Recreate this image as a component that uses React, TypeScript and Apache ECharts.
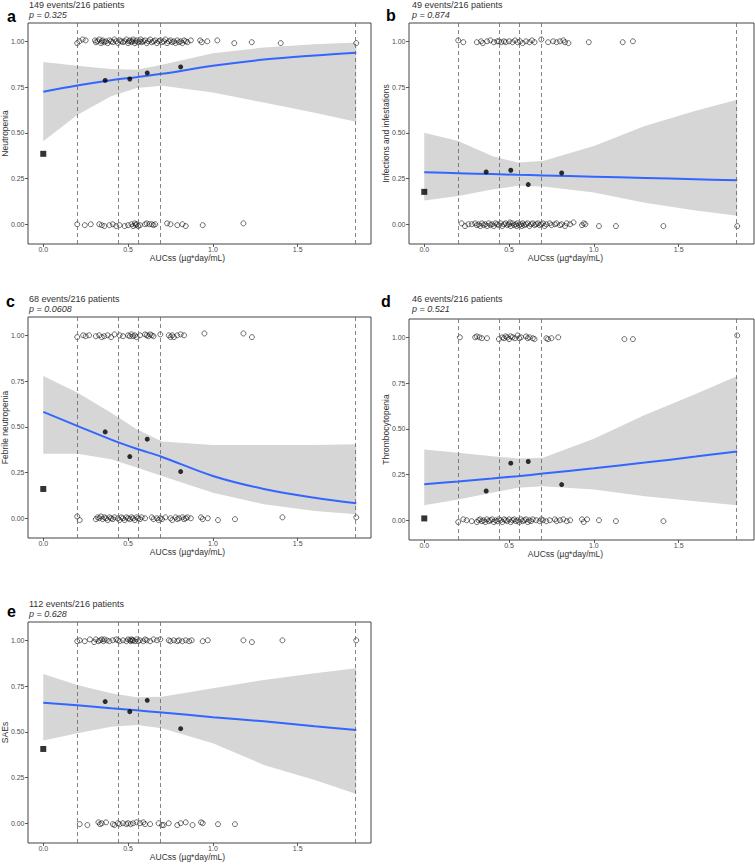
import React, { useEffect, useRef } from "react";
import * as echarts from "echarts";

// ---------- shared axis / cut values ----------
const X_TICKS = [0, 0.5, 1.0, 1.5];
const Y_TICKS = [0, 0.25, 0.5, 0.75, 1.0];
const QUARTILE_CUTS = [0.2, 0.438, 0.558, 0.693, 1.845];
const QUARTILE_MEDIANS = [0.365, 0.51, 0.613, 0.81];
const FIT_X = [0, 0.2, 0.4, 0.55, 0.7, 1.0, 1.3, 1.6, 1.845];
const X_TITLE = "AUCss (µg*day/mL)";

const PANEL_LETTERS = ["a", "b", "c", "d", "e"];
const ENDPOINTS = ["Neutropenia", "Infections and infestations", "Febrile neutropenia", "Thrombocytopenia", "SAEs"];
const EVENT_TEXT = [
  "149 events/216 patients",
  "49 events/216 patients",
  "68 events/216 patients",
  "46 events/216 patients",
  "112 events/216 patients",
];
const P_TEXT = ["p = 0.325", "p = 0.874", "p = 0.0608", "p = 0.521", "p = 0.628"];
const PLACEBO_RATE = [0.385, 0.177, 0.16, 0.01, 0.406];

// ---------- panel a: Neutropenia ----------
const A_QUARTILE_RATE = [0.786, 0.794, 0.827, 0.86];
const A_FIT = [0.724, 0.758, 0.787, 0.804, 0.822, 0.866, 0.9, 0.923, 0.938];
const A_UPPER = [0.887, 0.866, 0.848, 0.845, 0.872, 0.935, 0.966, 0.984, 0.993];
const A_LOWER = [0.454, 0.597, 0.7, 0.745, 0.757, 0.72, 0.665, 0.61, 0.56];
const A_EVENT_ROW = [
  [0.2, 0.99], [0.213, 1.0], [0.232, 1.01], [0.25, 1.005], [0.305, 1.005], [0.31, 0.995], [0.32, 1.0], [0.33, 1.01],
  [0.34, 0.99], [0.345, 1.0], [0.35, 1.005], [0.36, 0.995], [0.37, 1.0], [0.38, 0.99], [0.39, 1.005], [0.4, 1.0],
  [0.41, 0.995], [0.42, 1.01], [0.43, 1.0], [0.44, 0.99], [0.45, 1.005], [0.46, 1.0], [0.47, 0.995], [0.48, 1.0],
  [0.49, 1.01], [0.5, 0.99], [0.505, 1.0], [0.51, 1.005], [0.52, 0.995], [0.525, 1.0], [0.53, 1.01], [0.54, 0.99],
  [0.545, 1.0], [0.55, 1.005], [0.56, 0.995], [0.57, 1.0], [0.575, 1.01], [0.58, 0.995], [0.59, 1.0], [0.6, 1.005],
  [0.61, 0.99], [0.62, 1.0], [0.63, 1.01], [0.64, 0.995], [0.65, 1.0], [0.66, 1.005], [0.67, 0.99], [0.68, 1.0],
  [0.69, 1.005], [0.7, 0.995], [0.71, 1.0], [0.72, 1.01], [0.73, 0.99], [0.74, 1.0], [0.75, 1.005], [0.76, 0.995],
  [0.77, 1.0], [0.78, 0.99], [0.79, 1.005], [0.8, 0.995], [0.81, 1.0], [0.82, 0.99], [0.83, 1.005], [0.84, 1.0],
  [0.85, 0.995], [0.87, 1.005], [0.925, 1.005], [0.935, 0.995], [0.967, 1.0], [1.026, 1.005], [1.126, 0.99],
  [1.229, 0.995], [1.4, 0.99], [1.845, 0.99],
];
const A_NO_EVENT_ROW = [
  [0.2, 0.0], [0.245, -0.005], [0.28, 0.0], [0.33, 0.0], [0.345, -0.005], [0.36, -0.01], [0.39, -0.005], [0.41, 0.0],
  [0.43, -0.01], [0.45, -0.005], [0.48, -0.01], [0.5, -0.005], [0.52, 0.0], [0.53, -0.01], [0.54, 0.005],
  [0.545, -0.005], [0.55, 0.0], [0.56, -0.01], [0.57, -0.005], [0.6, 0.0], [0.61, 0.005], [0.625, 0.0], [0.64, 0.0],
  [0.65, -0.005], [0.66, 0.0], [0.73, 0.005], [0.75, 0.0], [0.79, -0.005], [0.82, 0.0], [0.84, -0.01],
  [0.94, -0.005], [1.18, 0.005],
];

// ---------- panel b: Infections and infestations ----------
const B_QUARTILE_RATE = [0.286, 0.295, 0.217, 0.28];
const B_FIT = [0.284, 0.279, 0.274, 0.27, 0.267, 0.26, 0.253, 0.246, 0.24];
const B_UPPER = [0.5, 0.455, 0.373, 0.337, 0.346, 0.428, 0.537, 0.62, 0.68];
const B_LOWER = [0.13, 0.155, 0.19, 0.21, 0.206, 0.173, 0.118, 0.075, 0.046];
const B_EVENT_ROW = [
  [0.2, 1.005], [0.23, 0.995], [0.31, 0.995], [0.335, 1.0], [0.345, 0.99], [0.37, 1.0], [0.39, 1.005], [0.41, 0.995],
  [0.43, 1.0], [0.44, 1.0], [0.455, 0.995], [0.47, 1.0], [0.48, 0.995], [0.5, 1.0], [0.52, 0.995], [0.535, 1.005],
  [0.55, 0.995], [0.565, 1.0], [0.58, 0.99], [0.6, 1.0], [0.62, 0.995], [0.635, 1.005], [0.65, 0.995], [0.69, 1.01],
  [0.73, 0.995], [0.76, 1.0], [0.78, 0.995], [0.8, 1.0], [0.82, 1.005], [0.83, 0.995], [0.85, 0.99], [0.97, 0.995],
  [1.17, 0.995], [1.23, 1.0],
];
const B_NO_EVENT_ROW = [
  [0.22, 0.005], [0.24, -0.01], [0.26, 0.0], [0.28, 0.0], [0.3, 0.005], [0.31, -0.005], [0.32, 0.0], [0.33, -0.01],
  [0.34, 0.005], [0.35, -0.005], [0.36, 0.0], [0.37, -0.01], [0.38, 0.005], [0.39, -0.005], [0.4, 0.0], [0.41, -0.01],
  [0.42, 0.005], [0.43, 0.0], [0.44, -0.005], [0.45, 0.005], [0.46, -0.01], [0.47, 0.0], [0.48, 0.005],
  [0.49, -0.005], [0.5, 0.0], [0.505, 0.01], [0.51, -0.01], [0.52, 0.005], [0.53, -0.005], [0.54, 0.0],
  [0.545, -0.01], [0.55, 0.005], [0.56, -0.005], [0.57, 0.0], [0.575, -0.01], [0.58, 0.005], [0.59, -0.005],
  [0.6, 0.0], [0.61, 0.005], [0.62, -0.01], [0.63, 0.0], [0.64, 0.005], [0.65, -0.005], [0.66, 0.0], [0.67, 0.005],
  [0.68, -0.005], [0.69, 0.0], [0.7, 0.005], [0.71, -0.01], [0.72, 0.0], [0.74, 0.005], [0.75, -0.005], [0.77, 0.0],
  [0.78, 0.005], [0.8, -0.005], [0.81, 0.0], [0.83, -0.01], [0.84, 0.005], [0.86, 0.0], [0.88, 0.01],
  [0.93, -0.005], [0.94, 0.005], [0.95, 0.0], [1.03, -0.01], [1.13, -0.01], [1.41, -0.01], [1.845, -0.01],
];

// ---------- panel c: Febrile neutropenia ----------
const C_QUARTILE_RATE = [0.472, 0.337, 0.432, 0.255];
const C_FIT = [0.581, 0.505, 0.43, 0.38, 0.335, 0.231, 0.16, 0.112, 0.082];
const C_UPPER = [0.778, 0.687, 0.577, 0.486, 0.42, 0.4, 0.4, 0.4, 0.405];
const C_LOWER = [0.353, 0.353, 0.322, 0.277, 0.231, 0.14, 0.077, 0.04, 0.022];
const C_EVENT_ROW = [
  [0.2, 0.99], [0.235, 1.0], [0.25, 0.995], [0.27, 1.0], [0.31, 0.995], [0.33, 1.0], [0.345, 0.99], [0.36, 0.995],
  [0.38, 1.0], [0.4, 0.99], [0.42, 1.005], [0.45, 1.0], [0.47, 0.995], [0.5, 1.0], [0.51, 0.995], [0.52, 1.005],
  [0.53, 0.995], [0.54, 1.0], [0.55, 0.99], [0.57, 1.0], [0.6, 1.005], [0.61, 1.0], [0.62, 0.995], [0.63, 1.005],
  [0.64, 1.0], [0.65, 0.995], [0.69, 1.005], [0.74, 1.0], [0.75, 0.99], [0.76, 1.0], [0.77, 0.99], [0.79, 1.0],
  [0.81, 1.005], [0.83, 1.0], [0.95, 1.01], [1.18, 1.01], [1.23, 0.99],
];
const C_NO_EVENT_ROW = [
  [0.2, 0.01], [0.215, -0.01], [0.31, -0.005], [0.32, 0.005], [0.33, 0.0], [0.34, 0.01], [0.35, -0.005],
  [0.36, 0.005], [0.37, 0.0], [0.38, -0.01], [0.39, 0.005], [0.4, 0.0], [0.41, -0.005], [0.42, 0.005], [0.44, 0.0],
  [0.45, -0.01], [0.46, 0.005], [0.47, 0.0], [0.48, -0.01], [0.49, 0.005], [0.5, 0.0], [0.51, -0.005],
  [0.52, 0.005], [0.53, 0.0], [0.54, -0.01], [0.55, 0.005], [0.56, 0.0], [0.57, -0.005], [0.58, 0.005], [0.6, 0.0],
  [0.64, 0.005], [0.65, -0.005], [0.67, 0.0], [0.68, -0.01], [0.69, 0.0], [0.7, -0.005], [0.72, 0.005], [0.75, 0.0],
  [0.76, -0.01], [0.78, 0.005], [0.79, -0.005], [0.8, 0.0], [0.82, 0.005], [0.83, -0.005], [0.84, 0.0],
  [0.85, 0.005], [0.87, 0.0], [0.93, 0.005], [0.94, -0.005], [0.97, 0.0], [1.03, -0.01], [1.13, -0.005],
  [1.41, 0.005], [1.845, 0.005],
];

// ---------- panel d: Thrombocytopenia ----------
const D_QUARTILE_RATE = [0.16, 0.312, 0.321, 0.195];
const D_FIT = [0.197, 0.212, 0.228, 0.241, 0.255, 0.284, 0.315, 0.348, 0.376];
const D_UPPER = [0.387, 0.369, 0.35, 0.338, 0.341, 0.445, 0.575, 0.69, 0.788];
const D_LOWER = [0.082, 0.113, 0.15, 0.177, 0.186, 0.168, 0.131, 0.104, 0.082];
const D_EVENT_ROW = [
  [0.21, 1.0], [0.3, 1.0], [0.31, 1.005], [0.325, 1.0], [0.34, 0.995], [0.37, 0.995], [0.44, 0.99], [0.46, 1.0],
  [0.47, 0.995], [0.48, 1.005], [0.49, 1.0], [0.5, 0.99], [0.51, 1.005], [0.52, 1.0], [0.535, 0.995], [0.55, 1.01],
  [0.56, 0.995], [0.57, 1.0], [0.6, 1.005], [0.61, 0.995], [0.62, 1.0], [0.64, 0.995], [0.65, 0.99], [0.72, 0.995],
  [0.73, 0.99], [0.75, 0.995], [0.79, 1.0], [1.18, 0.99], [1.23, 0.99], [1.845, 1.01],
];
const D_NO_EVENT_ROW = [
  [0.2, -0.01], [0.23, 0.005], [0.25, 0.0], [0.28, -0.005], [0.31, -0.01], [0.32, 0.0], [0.33, 0.005],
  [0.34, -0.005], [0.35, 0.0], [0.36, -0.01], [0.37, 0.005], [0.38, -0.005], [0.39, 0.0], [0.4, 0.005],
  [0.41, -0.01], [0.42, 0.0], [0.43, -0.005], [0.44, 0.005], [0.45, 0.0], [0.46, -0.01], [0.47, 0.005], [0.48, 0.0],
  [0.49, -0.005], [0.5, 0.005], [0.51, -0.01], [0.52, 0.0], [0.53, 0.005], [0.54, -0.005], [0.55, 0.0],
  [0.56, -0.01], [0.57, 0.005], [0.58, -0.005], [0.59, 0.0], [0.6, 0.005], [0.61, -0.01], [0.62, 0.0],
  [0.63, -0.005], [0.64, 0.005], [0.66, 0.0], [0.68, -0.005], [0.69, 0.005], [0.7, 0.0], [0.72, -0.005],
  [0.74, 0.0], [0.77, 0.005], [0.78, -0.005], [0.8, 0.0], [0.82, 0.005], [0.84, -0.005], [0.86, 0.0],
  [0.93, 0.005], [0.94, -0.01], [0.96, 0.005], [1.03, 0.0], [1.13, -0.005], [1.41, -0.005],
];

// ---------- panel e: SAEs ----------
const E_QUARTILE_RATE = [0.665, 0.61, 0.672, 0.517];
const E_FIT = [0.659, 0.645, 0.629, 0.617, 0.605, 0.58, 0.557, 0.53, 0.51];
const E_UPPER = [0.816, 0.756, 0.71, 0.689, 0.692, 0.738, 0.783, 0.82, 0.847];
const E_LOWER = [0.452, 0.492, 0.528, 0.537, 0.519, 0.437, 0.319, 0.237, 0.16];
const E_EVENT_ROW = [
  [0.2, 0.995], [0.215, 1.0], [0.245, 0.995], [0.275, 1.005], [0.3, 0.99], [0.31, 1.005], [0.325, 0.995],
  [0.335, 1.0], [0.345, 1.005], [0.355, 0.995], [0.36, 1.005], [0.375, 1.0], [0.39, 0.995], [0.41, 1.0],
  [0.43, 1.005], [0.44, 1.0], [0.45, 0.995], [0.47, 1.0], [0.49, 0.995], [0.5, 1.005], [0.51, 1.0],
  [0.515, 0.995], [0.52, 1.005], [0.525, 1.0], [0.53, 1.0], [0.54, 0.995], [0.55, 1.005], [0.56, 0.995],
  [0.57, 1.0], [0.59, 0.995], [0.6, 1.005], [0.61, 1.0], [0.63, 0.995], [0.65, 1.005], [0.67, 1.0], [0.69, 1.005],
  [0.74, 1.0], [0.75, 0.995], [0.77, 1.0], [0.79, 0.995], [0.8, 1.0], [0.82, 0.995], [0.84, 1.0], [0.86, 0.995],
  [0.875, 1.0], [0.94, 0.995], [0.97, 1.0], [1.18, 1.0], [1.23, 0.99], [1.41, 1.0], [1.845, 1.0],
];
const E_NO_EVENT_ROW = [
  [0.215, -0.005], [0.26, -0.01], [0.325, 0.005], [0.335, -0.005], [0.345, 0.0], [0.37, 0.005], [0.41, -0.005],
  [0.42, -0.01], [0.44, 0.0], [0.45, -0.005], [0.47, 0.0], [0.49, -0.005], [0.5, 0.0], [0.515, -0.005],
  [0.53, 0.0], [0.55, 0.005], [0.57, 0.0], [0.59, 0.005], [0.6, -0.005], [0.63, -0.005], [0.68, 0.0],
  [0.7, -0.01], [0.71, -0.01], [0.74, 0.0], [0.79, -0.01], [0.81, 0.0], [0.84, 0.005], [0.88, -0.01],
  [0.93, 0.005], [0.94, 0.0], [1.03, -0.005], [1.13, -0.005],
];

const QUARTILE_RATES = [A_QUARTILE_RATE, B_QUARTILE_RATE, C_QUARTILE_RATE, D_QUARTILE_RATE, E_QUARTILE_RATE];
const FITS = [A_FIT, B_FIT, C_FIT, D_FIT, E_FIT];
const UPPERS = [A_UPPER, B_UPPER, C_UPPER, D_UPPER, E_UPPER];
const LOWERS = [A_LOWER, B_LOWER, C_LOWER, D_LOWER, E_LOWER];
const EVENT_ROWS = [A_EVENT_ROW, B_EVENT_ROW, C_EVENT_ROW, D_EVENT_ROW, E_EVENT_ROW];
const NO_EVENT_ROWS = [A_NO_EVENT_ROW, B_NO_EVENT_ROW, C_NO_EVENT_ROW, D_NO_EVENT_ROW, E_NO_EVENT_ROW];

// ---------- layout (pixels) ----------
const LAYOUT = [
  { left: 28, top: 23, width: 343, height: 221, xMax: 1.932, textX: 29, line1: 8, letterX: 7, letterBase: 21.7 },
  { left: 409, top: 23, width: 345, height: 221, xMax: 1.944, textX: 412, line1: 8, letterX: 386, letterBase: 20 },
  { left: 28, top: 317, width: 343, height: 221, xMax: 1.932, textX: 29, line1: 302, letterX: 6, letterBase: 306 },
  { left: 409, top: 319, width: 345, height: 221, xMax: 1.944, textX: 412, line1: 302, letterX: 381, letterBase: 306.7 },
  { left: 28, top: 622, width: 343, height: 221, xMax: 1.932, textX: 29, line1: 606.5, letterX: 7, letterBase: 616 },
];
const LINE_GAP = 10;
const TITLE_FS = 9;
const X_MIN = -0.09;
const Y_MIN = -0.108;
const Y_MAX = 1.1;
const FONT = "'Liberation Sans', Arial, sans-serif";

export default function App() {
  const ref = useRef<HTMLDivElement>(null);

  useEffect(() => {
    if (!ref.current) return;
    const chart = echarts.init(ref.current, undefined, { renderer: "svg" });

    const grid = LAYOUT.map((l) => ({
      left: l.left,
      top: l.top,
      width: l.width,
      height: l.height,
      show: true,
      borderColor: "#444",
      borderWidth: 1,
      backgroundColor: "transparent",
      containLabel: false,
      outerBoundsMode: "none",
    }));

    const xAxis = LAYOUT.map((l, i) => ({
      type: "value",
      gridIndex: i,
      min: X_MIN,
      max: l.xMax,
      splitLine: { show: false },
      axisLine: { show: false, onZero: false },
      axisTick: { show: true, length: 3, lineStyle: { color: "#333", width: 0.8 }, customValues: X_TICKS },
      axisLabel: {
        customValues: X_TICKS,
        formatter: (v: number) => v.toFixed(1),
        fontSize: 7,
        lineHeight: 7,
        color: "#4d4d4d",
        margin: 2,
        fontFamily: FONT,
      },
      name: X_TITLE,
      nameLocation: "middle",
      nameGap: 9.5,
      nameMoveOverlap: false,
      nameTextStyle: {
        fontSize: 8.5,
        lineHeight: 9,
        color: "#333",
        fontFamily: FONT,
        padding: [0, i % 2 === 0 ? 24 : 32, 0, 0],
      },
    }));

    const yAxis = LAYOUT.map((l, i) => ({
      type: "value",
      gridIndex: i,
      min: Y_MIN,
      max: Y_MAX,
      splitLine: { show: false },
      axisLine: { show: false, onZero: false },
      axisTick: { show: true, length: 3, lineStyle: { color: "#333", width: 0.8 }, customValues: Y_TICKS },
      axisLabel: {
        customValues: Y_TICKS,
        formatter: (v: number) => v.toFixed(2),
        fontSize: 7,
        color: "#4d4d4d",
        margin: 3.5,
        fontFamily: FONT,
      },
      name: ENDPOINTS[i],
      nameLocation: "middle",
      nameRotate: 90,
      nameGap: 18.5,
      nameMoveOverlap: false,
      nameTextStyle: { fontSize: 8.5, color: "#333", fontFamily: FONT },
    }));

    const series: any[] = [];
    LAYOUT.forEach((l, i) => {
      const upper = UPPERS[i];
      const lower = LOWERS[i];
      series.push({
        type: "custom",
        name: `band-${i}`,
        xAxisIndex: i,
        yAxisIndex: i,
        silent: true,
        z: 1,
        data: [[FIT_X[0], upper[0]]],
        renderItem: (_p: any, api: any) => {
          const pts: number[][] = [];
          for (let k = 0; k < FIT_X.length; k++) pts.push(api.coord([FIT_X[k], upper[k]]));
          for (let k = FIT_X.length - 1; k >= 0; k--) pts.push(api.coord([FIT_X[k], lower[k]]));
          return { type: "polygon", shape: { points: pts }, style: { fill: "#d6d6d6" } };
        },
      });
      series.push({
        type: "line",
        name: `fit-${i}`,
        xAxisIndex: i,
        yAxisIndex: i,
        z: 3,
        smooth: 0.35,
        showSymbol: false,
        lineStyle: { color: "#3366FF", width: 2 },
        data: FIT_X.map((x, k) => [x, FITS[i][k]]),
        markLine: {
          silent: true,
          symbol: ["none", "none"],
          label: { show: false },
          lineStyle: { color: "#666", type: [4, 3], width: 0.8 },
          data: QUARTILE_CUTS.map((v) => ({ xAxis: v })),
        },
      });
      series.push({
        type: "scatter",
        name: `patients-${i}`,
        xAxisIndex: i,
        yAxisIndex: i,
        z: 4,
        symbol: "circle",
        symbolSize: 5,
        itemStyle: { color: "rgba(255,255,255,0)", borderColor: "#111", borderWidth: 0.75 },
        data: [...EVENT_ROWS[i], ...NO_EVENT_ROWS[i]],
      });
      series.push({
        type: "scatter",
        name: `quartiles-${i}`,
        xAxisIndex: i,
        yAxisIndex: i,
        z: 5,
        symbol: "circle",
        symbolSize: 5,
        itemStyle: { color: "#000" },
        data: QUARTILE_MEDIANS.map((x, k) => [x, QUARTILE_RATES[i][k]]),
      });
      series.push({
        type: "scatter",
        name: `placebo-${i}`,
        xAxisIndex: i,
        yAxisIndex: i,
        z: 5,
        symbol: "rect",
        symbolSize: 6,
        itemStyle: { color: "#000" },
        data: [[0, PLACEBO_RATE[i]]],
      });
    });

    const graphic: any[] = [];
    LAYOUT.forEach((l, i) => {
      graphic.push({
        type: "text",
        x: l.letterX,
        y: l.letterBase - 0.31 * 16,
        style: { text: PANEL_LETTERS[i], fill: "#000", fontSize: 16, fontWeight: "bold", fontFamily: FONT, verticalAlign: "middle", align: "left" },
      });
      graphic.push({
        type: "text",
        x: l.textX,
        y: l.line1 - 0.31 * TITLE_FS,
        style: { text: EVENT_TEXT[i], fill: "#333", fontSize: TITLE_FS, fontFamily: FONT, verticalAlign: "middle", align: "left" },
      });
      graphic.push({
        type: "text",
        x: l.textX,
        y: l.line1 + LINE_GAP - 0.31 * TITLE_FS,
        style: { text: P_TEXT[i], fill: "#333", fontSize: TITLE_FS, fontStyle: "italic", fontFamily: FONT, verticalAlign: "middle", align: "left" },
      });
    });

    chart.setOption({
      animation: false,
      backgroundColor: "#fff",
      textStyle: { fontFamily: FONT },
      grid,
      xAxis,
      yAxis,
      series,
      graphic,
    });

    return () => chart.dispose();
  }, []);

  return <div ref={ref} style={{ position: "absolute", left: 0, top: 0, width: 755, height: 865 }} />;
}
